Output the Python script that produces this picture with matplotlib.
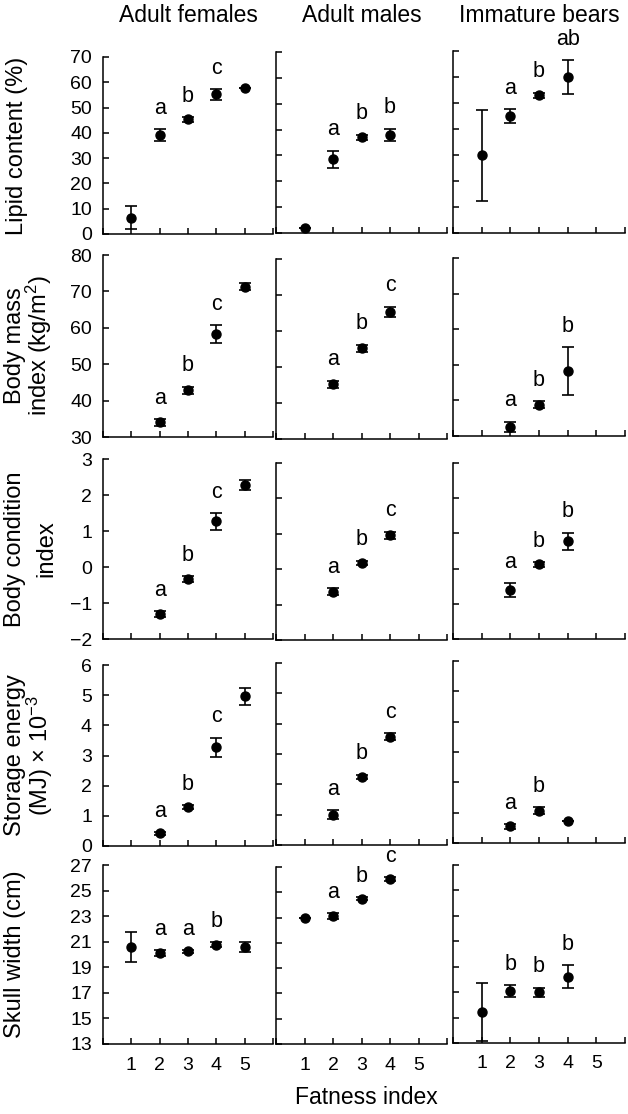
import numpy as np
import matplotlib
matplotlib.use('Agg')
import matplotlib.pyplot as plt

plt.rcParams['font.family'] = ['Liberation Sans', 'DejaVu Sans']
plt.rcParams['mathtext.fontset'] = 'custom'
plt.rcParams['mathtext.rm'] = 'Liberation Sans'
plt.rcParams['mathtext.it'] = 'Liberation Sans'

nan = np.nan
fatness = [1, 2, 3, 4, 5]
groups = ['Adult females', 'Adult males', 'Immature bears']

# Lipid content (%)
lipid_f = [6.5, 39.0, 45.3, 55.2, 57.8]
lipid_f_se = [4.5, 2.4, 1.0, 2.2, 0.0]
lipid_f_let = ['', 'a', 'b', 'c', '']
lipid_m = [2.0, 28.5, 37.0, 38.0, nan]
lipid_m_se = [0.0, 3.3, 1.0, 2.4, nan]
lipid_m_let = ['', 'a', 'b', 'b', '']
lipid_i = [30.0, 45.0, 53.0, 60.0, nan]
lipid_i_se = [17.5, 2.7, 1.0, 6.5, nan]
lipid_i_let = ['', 'a', 'b', 'ab', '']

# Body mass index (kg/m2)
bmi_f = [nan, 34.0, 42.8, 58.3, 71.3]
bmi_f_se = [nan, 1.0, 1.0, 2.5, 1.0]
bmi_f_let = ['', 'a', 'b', 'c', '']
bmi_m = [nan, 45.2, 55.2, 65.4, nan]
bmi_m_se = [nan, 1.0, 1.0, 1.4, nan]
bmi_m_let = ['', 'a', 'b', 'c', '']
bmi_i = [nan, 32.5, 38.8, 48.2, nan]
bmi_i_se = [nan, 1.5, 1.0, 6.8, nan]
bmi_i_let = ['', 'a', 'b', 'b', '']

# Body condition index
bci_f = [nan, -1.31, -0.33, 1.27, 2.28]
bci_f_se = [nan, 0.08, 0.08, 0.23, 0.13]
bci_f_let = ['', 'a', 'b', 'c', '']
bci_m = [nan, -0.63, 0.18, 0.96, nan]
bci_m_se = [nan, 0.1, 0.06, 0.1, nan]
bci_m_let = ['', 'a', 'b', 'c', '']
bci_i = [nan, -0.61, 0.12, 0.78, nan]
bci_i_se = [nan, 0.2, 0.07, 0.24, nan]
bci_i_let = ['', 'a', 'b', 'b', '']

# Storage energy (MJ) x 10^-3
energy_f = [nan, 0.42, 1.28, 3.27, 4.97]
energy_f_se = [nan, 0.05, 0.07, 0.32, 0.28]
energy_f_let = ['', 'a', 'b', 'c', '']
energy_m = [nan, 1.0, 2.25, 3.57, nan]
energy_m_se = [nan, 0.15, 0.07, 0.12, nan]
energy_m_let = ['', 'a', 'b', 'c', '']
energy_i = [nan, 0.55, 1.07, 0.72, nan]
energy_i_se = [nan, 0.08, 0.12, 0.0, nan]
energy_i_let = ['', 'a', 'b', '', '']

# Skull width (cm)
skull_f = [20.56, 20.1, 20.25, 20.75, 20.56]
skull_f_se = [1.17, 0.25, 0.1, 0.2, 0.4]
skull_f_let = ['', 'a', 'a', 'b', '']
skull_m = [22.95, 23.1, 24.5, 26.05, nan]
skull_m_se = [0.0, 0.25, 0.1, 0.15, nan]
skull_m_let = ['', 'a', 'b', 'c', '']
skull_i = [15.45, 17.1, 17.0, 18.2, nan]
skull_i_se = [2.3, 0.45, 0.35, 0.9, nan]
skull_i_let = ['', 'b', 'b', 'b', '']

ylabels = [['Lipid content (%)'],
           ['Body mass', 'index (kg/m$^2$)'],
           ['Body condition', 'index'],
           ['Storage energy', '(MJ) × 10$^{-3}$'],
           ['Skull width (cm)']]
ylims = [(0, 70), (30, 80), (-2, 3), (0, 6), (13, 27)]
ysteps = [10, 10, 1, 1, 2]

rows = [
    [(lipid_f, lipid_f_se, lipid_f_let), (lipid_m, lipid_m_se, lipid_m_let), (lipid_i, lipid_i_se, lipid_i_let)],
    [(bmi_f, bmi_f_se, bmi_f_let), (bmi_m, bmi_m_se, bmi_m_let), (bmi_i, bmi_i_se, bmi_i_let)],
    [(bci_f, bci_f_se, bci_f_let), (bci_m, bci_m_se, bci_m_let), (bci_i, bci_i_se, bci_i_let)],
    [(energy_f, energy_f_se, energy_f_let), (energy_m, energy_m_se, energy_m_let), (energy_i, energy_i_se, energy_i_let)],
    [(skull_f, skull_f_se, skull_f_let), (skull_m, skull_m_se, skull_m_let), (skull_i, skull_i_se, skull_i_let)],
]

# panel layout in pixels (left, right) and per row/column (top, bottom)
W, H = 628, 1114
col_x = [(103, 273), (276, 447), (453, 625)]
row_y = [
    [(57, 234), (52, 233), (51, 233)],
    [(255, 437), (259, 439), (258, 436)],
    [(459, 639), (463, 640), (463, 639)],
    [(665, 846), (663, 845), (661, 843)],
    [(865, 1044), (867, 1044), (865, 1043)],
]
# x position (px) of each ylabel line
ylab_x = [[17], [15, 39], [15, 46], [15, 40], [15]]

fig = plt.figure(figsize=(W / 100, H / 100), dpi=100)

for r in range(5):
    for c in range(3):
        x0, x1 = col_x[c]
        t, b = row_y[r][c]
        ax = fig.add_axes([x0 / W, 1 - b / H, (x1 - x0) / W, (b - t) / H])
        mean, se, let = rows[r][c]
        mean = np.array(mean, dtype=float)
        se = np.array(se, dtype=float)
        ax.errorbar(fatness, mean, yerr=se, fmt='o', color='black', ms=6.5,
                    capsize=4, elinewidth=1.2, capthick=1.2, clip_on=False)
        for xi, m, s, l in zip(fatness, mean, se, let):
            if l:
                ax.annotate(l, (xi, m + s), xytext=(0, 11), textcoords='offset points',
                            ha='center', va='baseline', fontsize=15.5, annotation_clip=False)
        ax.set_xlim(0, 6)
        lo, hi = ylims[r]
        ax.set_ylim(lo, hi)
        ax.set_yticks(np.arange(lo, hi + 0.01, ysteps[r]))
        ax.set_xticks(range(0, 7))
        ax.spines['top'].set_visible(False)
        ax.spines['right'].set_visible(False)
        for s in ['left', 'bottom']:
            ax.spines[s].set_linewidth(1.1)
        ax.tick_params(direction='in', length=4, width=1.1, labelsize=14)
        ax.tick_params(axis='y', pad=8)
        if c > 0:
            ax.set_yticklabels([])
        if r < 4:
            ax.set_xticklabels([])
        else:
            ax.set_xticklabels(['', '1', '2', '3', '4', '5', ''])
            ax.tick_params(axis='x', pad=9)
        if r == 0:
            fig.text((x0 + x1) / 2 / W, 1 - 15.5 / H, groups[c], ha='center', va='center', fontsize=16.5)
    t, b = row_y[r][0]
    for line, lx in zip(ylabels[r], ylab_x[r]):
        fig.text(lx / W, 1 - (t + b) / 2 / H, line, rotation=90, ha='center', va='center',
                 fontsize=17)

fig.text(366 / W, 1 - 1098 / H, 'Fatness index', ha='center', va='center', fontsize=16.5)

fig.savefig('out.png', dpi=100)
